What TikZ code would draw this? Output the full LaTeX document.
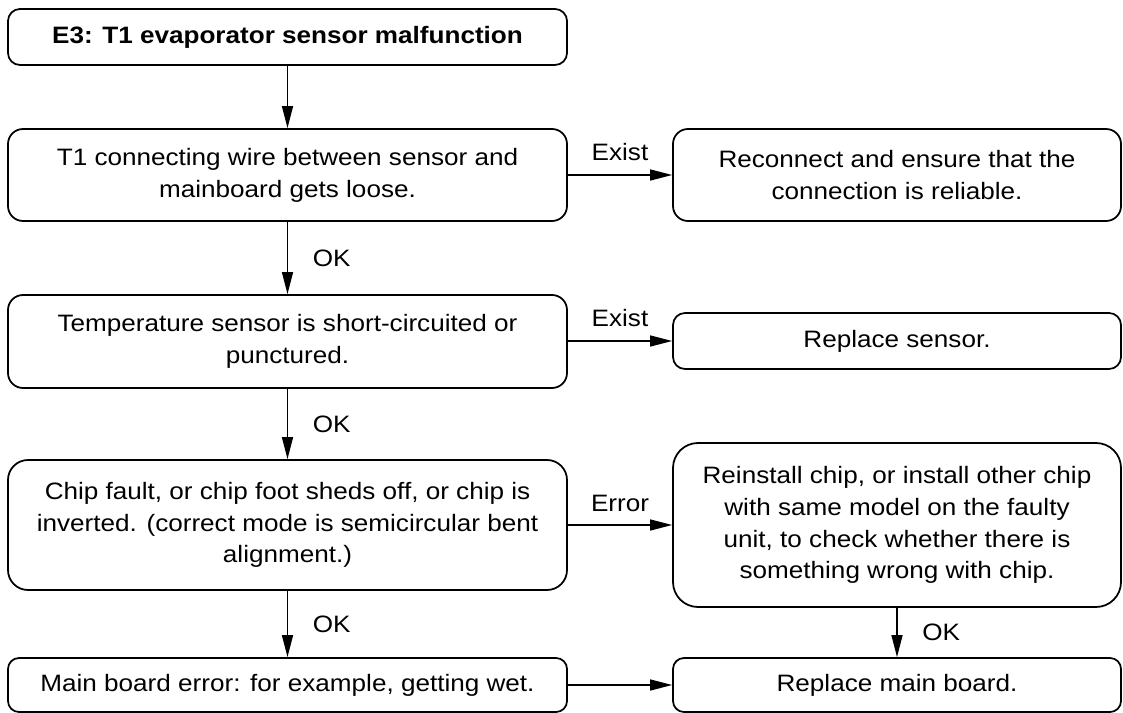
\documentclass[tikz,border=0pt]{standalone}
\usepackage{fontspec}
\setmainfont{Liberation Sans}[FakeStretch=1.1]
\usetikzlibrary{arrows.meta}

\begin{document}
\begin{tikzpicture}[x=0.2mm, y=-0.2mm, >={Triangle[length=4.4mm, width=2.2mm]},
    font=\fontsize{13.5}{18.1}\selectfont,
    box/.style={draw, line width=1pt, align=center, inner sep=0pt},
    leftbox/.style={box, minimum width=11.18cm},
    rightbox/.style={box, minimum width=8.96cm},
    flow/.style={->, line width=0.8pt},
    lbl/.style={inner sep=0pt}]

    % Define variables/coordinates
    \def\Xl{287.5}
    \def\Xr{897}

    \useasboundingbox (0,0) rectangle (1123,713);

    % Left column
    \node[leftbox, minimum height=1.12cm, rounded corners=2.4mm] (e3) at (\Xl,37)
        {\textbf{E3: T1 evaporator sensor malfunction}};
    \node[leftbox, minimum height=1.84cm, rounded corners=3mm] (wire) at (\Xl,175)
        {T1 connecting wire between sensor and\\mainboard gets loose.};
    \node[leftbox, minimum height=1.86cm, rounded corners=3mm] (sensor) at (\Xl,341.5)
        {Temperature sensor is short-circuited or\\punctured.};
    \node[leftbox, minimum height=2.6cm, rounded corners=4mm] (chip) at (\Xl,525)
        {Chip fault, or chip foot sheds off, or chip is\\inverted. (correct mode is semicircular bent\\alignment.)};
    \node[leftbox, minimum height=1.08cm, rounded corners=2.2mm] (board) at (\Xl,685)
        {Main board error: for example, getting wet.};

    % Right column
    \node[rightbox, minimum height=1.84cm, rounded corners=3mm] (reconnect) at (\Xr,175)
        {Reconnect and ensure that the\\connection is reliable.};
    \node[rightbox, minimum height=1.12cm, rounded corners=2.4mm] (replsensor) at (\Xr,341)
        {Replace sensor.};
    \node[rightbox, minimum height=3.28cm, rounded corners=5mm] (reinstall) at (\Xr,525)
        {Reinstall chip, or install other chip\\with same model on the faulty\\unit, to check whether there is\\something wrong with chip.};
    \node[rightbox, minimum height=1.08cm, rounded corners=2.2mm] (replboard) at (\Xr,685)
        {Replace main board.};

    % Draw vertical flow
    \draw[flow] (e3) -- (wire);
    \draw[flow] (wire) -- (sensor) node[lbl, midway, right=14pt] {OK};
    \draw[flow] (sensor) -- (chip) node[lbl, midway, right=14pt] {OK};
    \draw[flow] (chip) -- (board) node[lbl, midway, right=14pt] {OK};
    \draw[flow] (reinstall) -- (replboard) node[lbl, midway, right=14pt] {OK};

    % Draw horizontal flow
    \draw[flow] (wire) -- (reconnect) node[lbl, midway, above=8pt] {Exist};
    \draw[flow] (sensor.east |- replsensor) -- (replsensor) node[lbl, midway, above=8pt] {Exist};
    \draw[flow] (chip) -- (reinstall) node[lbl, midway, above=7pt] {Error};
    \draw[flow] (board) -- (replboard);

\end{tikzpicture}
\end{document}
